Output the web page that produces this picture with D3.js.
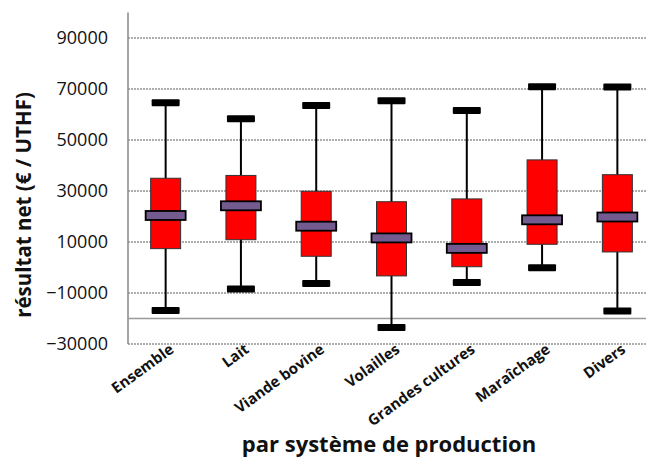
<!DOCTYPE html>
<html>
<head>
<meta charset="utf-8">
<script src="https://cdn.jsdelivr.net/npm/d3@7"></script>
<style>
  body { margin: 0; background: #fff; }
  svg { display: block; font-family: "Open Sans", sans-serif; }
</style>
</head>
<body>
<div class="chart-box"></div>
<script>
// values
const categories = ["Ensemble", "Lait", "Viande bovine", "Volailles", "Grandes cultures", "Maraîchage", "Divers"];
const maxValues = [64600, 58300, 63500, 65400, 61600, 70900, 70800];
const q3Values = [35000, 36100, 29900, 25800, 26900, 42200, 36400];
const medianValues = [20400, 24200, 16200, 11600, 7500, 18700, 19800];
const q1Values = [7400, 10900, 4400, -3300, 300, 9100, 6100];
const minValues = [-16900, -8400, -6300, -23500, -5900, -100, -17100];
const yTicks = [-30000, -10000, 10000, 30000, 50000, 70000, 90000];
const axisCross = -20000;

const width = 646, height = 466;
const plot = {left: 128, right: 655, top: 12.5, bottom: 344};

const svg = d3.select(".chart-box").append("svg")
  .attr("width", width)
  .attr("height", height);

const x = d3.scaleBand()
  .domain(categories)
  .range([plot.left, plot.right]);

const y = d3.scaleLinear()
  .domain([-30000, 100000])
  .range([plot.bottom, plot.top]);

const data = categories.map((c, i) => ({
  name: c, max: maxValues[i], q3: q3Values[i], med: medianValues[i], q1: q1Values[i], min: minValues[i]
}));

// gridlines
svg.append("g")
  .selectAll("line")
  .data(yTicks)
  .enter().append("line")
  .attr("x1", plot.left)
  .attr("x2", plot.right)
  .attr("y1", d => y(d))
  .attr("y2", d => y(d))
  .attr("stroke", "#333")
  .attr("stroke-width", 0.8)
  .attr("stroke-dasharray", "2,1");

// y axis, labels only
const yAxis = d3.axisLeft(y).tickValues(yTicks).tickSize(0).tickPadding(20).tickFormat(d3.format("d"));
const gy = svg.append("g")
  .attr("transform", "translate(" + plot.left + ",0)")
  .call(yAxis);
gy.select(".domain").remove();
gy.selectAll("text")
  .attr("font-family", "Open Sans")
  .attr("font-size", 18)
  .attr("fill", "#111");

svg.append("line")
  .attr("x1", plot.left).attr("x2", plot.left)
  .attr("y1", plot.top).attr("y2", plot.bottom)
  .attr("stroke", "#888").attr("stroke-width", 1.5);

// horizontal axis crosses at -20000
svg.append("line")
  .attr("x1", plot.left).attr("x2", plot.right)
  .attr("y1", y(axisCross)).attr("y2", y(axisCross))
  .attr("stroke", "#999").attr("stroke-width", 1.5);

// x labels
const xAxis = d3.axisBottom(x).tickSize(0).tickPadding(0);
const gx = svg.append("g")
  .attr("transform", "translate(0," + plot.bottom + ")")
  .call(xAxis);
gx.select(".domain").remove();
gx.selectAll("text")
  .attr("font-family", "Open Sans")
  .attr("font-weight", "bold")
  .attr("font-size", 15)
  .attr("fill", "#111")
  .attr("text-anchor", "end")
  .attr("dy", "0.7em")
  .attr("transform", "translate(3,-1) rotate(-36)");

// boxes
const box = svg.append("g")
  .selectAll("g")
  .data(data)
  .enter().append("g")
  .attr("transform", d => "translate(" + (x(d.name) + x.bandwidth() / 2) + ",0)");

box.append("line")
  .attr("y1", d => y(d.max))
  .attr("y2", d => y(d.min))
  .attr("stroke", "#000")
  .attr("stroke-width", 2);

box.append("rect")
  .attr("x", -15)
  .attr("width", 30)
  .attr("y", d => y(d.q3))
  .attr("height", d => y(d.q1) - y(d.q3))
  .attr("fill", "#ff0000")
  .attr("stroke", "#333")
  .attr("stroke-width", 1);

box.selectAll(".cap")
  .data(d => [d.max, d.min])
  .enter().append("rect")
  .attr("class", "cap")
  .attr("x", -14)
  .attr("width", 28)
  .attr("y", v => y(v) - 3.5)
  .attr("height", 7)
  .attr("rx", 1)
  .attr("fill", "#000");

box.append("rect")
  .attr("x", -20)
  .attr("width", 40)
  .attr("y", d => y(d.med) - 4.5)
  .attr("height", 9)
  .attr("fill", "#735b90")
  .attr("stroke", "#000")
  .attr("stroke-width", 1.8);

// titles
svg.append("text")
  .attr("transform", "translate(31," + 205 + ") rotate(-90)")
  .attr("text-anchor", "middle")
  .attr("font-family", "Open Sans")
  .attr("font-weight", "bold")
  .attr("font-size", 20.5)
  .attr("fill", "#111")
  .text("résultat net (€ / UTHF)");

svg.append("text")
  .attr("x", 389)
  .attr("y", 452)
  .attr("text-anchor", "middle")
  .attr("font-family", "Open Sans")
  .attr("font-weight", "bold")
  .attr("font-size", 22)
  .attr("fill", "#111")
  .text("par système de production");
</script>
</body>
</html>
